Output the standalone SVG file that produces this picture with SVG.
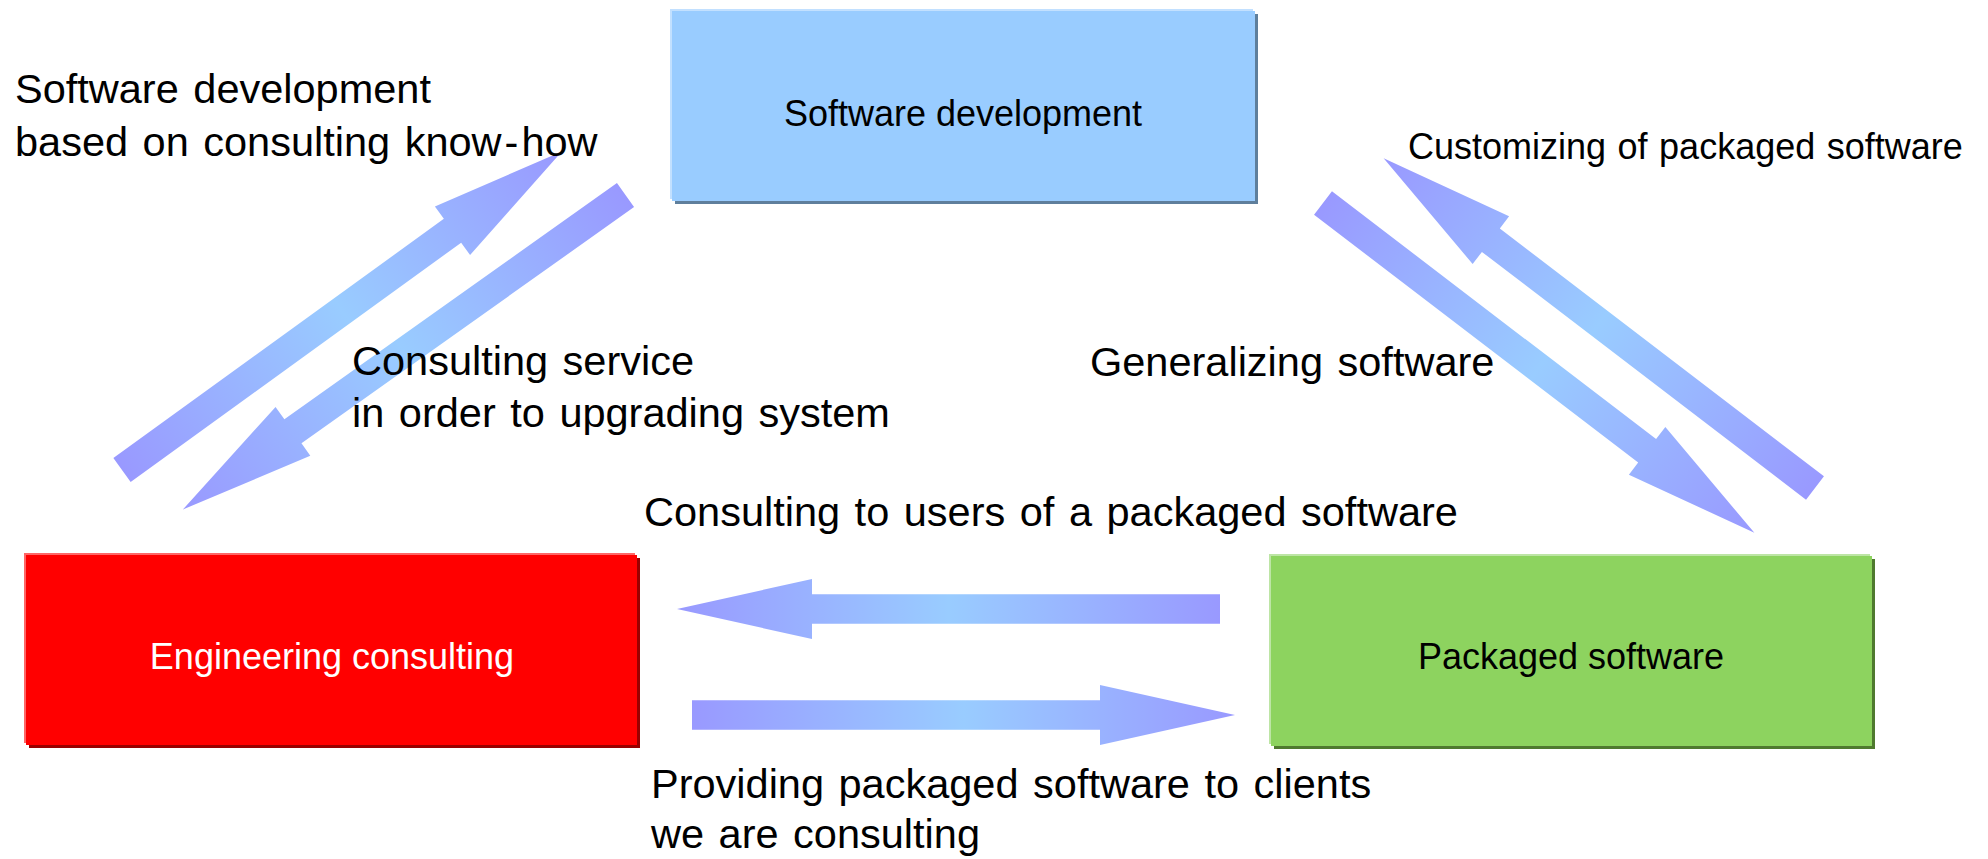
<svg xmlns="http://www.w3.org/2000/svg" width="1988" height="859" viewBox="0 0 1988 859">
<defs>
<linearGradient id="ag" x1="0" y1="0" x2="1" y2="0">
<stop offset="0" stop-color="#9999ff"/>
<stop offset="0.5" stop-color="#99ccff"/>
<stop offset="1" stop-color="#9999ff"/>
</linearGradient>
<polygon id="arr" points="0,-14.75 408,-14.75 408,-30 543,0 408,30 408,14.75 0,14.75"/>
</defs>
<style>
text{font-family:"Liberation Sans",Arial,Helvetica,sans-serif;fill:#000}
.lbl{font-size:41.5px;word-spacing:3px}
.nl{font-size:36px;text-anchor:middle}
.arrow{fill:url(#ag)}
</style>
<rect width="1988" height="859" fill="#ffffff"/>
<g id="connectors">
<use href="#arr" class="arrow" transform="translate(122,470) rotate(-35.9)"/>
<use href="#arr" class="arrow" transform="translate(625.5,195) rotate(144.6)"/>
<use href="#arr" class="arrow" transform="translate(1323,203) rotate(37.4)"/>
<use href="#arr" class="arrow" transform="translate(1815,488) rotate(-142.6)"/>
<use href="#arr" class="arrow" transform="translate(1220,609) rotate(180)"/>
<use href="#arr" class="arrow" transform="translate(692,715)"/>
</g>
<g id="software-development">
<rect x="675" y="14" width="583" height="190" fill="#5f7f9c"/>
<rect x="670" y="9" width="583" height="190" fill="#c2e0ff"/>
<rect x="672" y="11" width="583" height="190" fill="#99ccff"/>
<text class="nl" x="963" y="126">Software development</text>
</g>
<g id="engineering-consulting">
<rect x="29" y="558" width="611" height="190" fill="#990000"/>
<rect x="24" y="553" width="611" height="190" fill="#ff6666"/>
<rect x="26" y="555" width="611" height="190" fill="#ff0000"/>
<text class="nl" x="332" y="669" style="fill:#ffffff">Engineering consulting</text>
</g>
<g id="packaged-software">
<rect x="1274" y="559" width="601" height="190" fill="#4f7a2f"/>
<rect x="1269" y="554" width="601" height="190" fill="#bde5a5"/>
<rect x="1271" y="556" width="601" height="190" fill="#8dd35f"/>
<text class="nl" x="1571" y="669">Packaged software</text>
</g>
<g id="labels">
<text class="lbl" x="15" y="103">Software development</text>
<text class="lbl" x="15" y="156">based on consulting know<tspan dx="3">-</tspan><tspan dx="3">how</tspan></text>
<text class="lbl" x="352" y="375">Consulting service</text>
<text class="lbl" x="352" y="427">in order to upgrading system</text>
<text x="1408" y="159" style="font-size:36px;word-spacing:1.5px">Customizing of packaged software</text>
<text class="lbl" x="1090" y="376">Generalizing software</text>
<text class="lbl" x="644" y="526">Consulting to users of a packaged software</text>
<text class="lbl" x="651" y="798">Providing packaged software to clients</text>
<text class="lbl" x="651" y="848">we are consulting</text>
</g>
</svg>
